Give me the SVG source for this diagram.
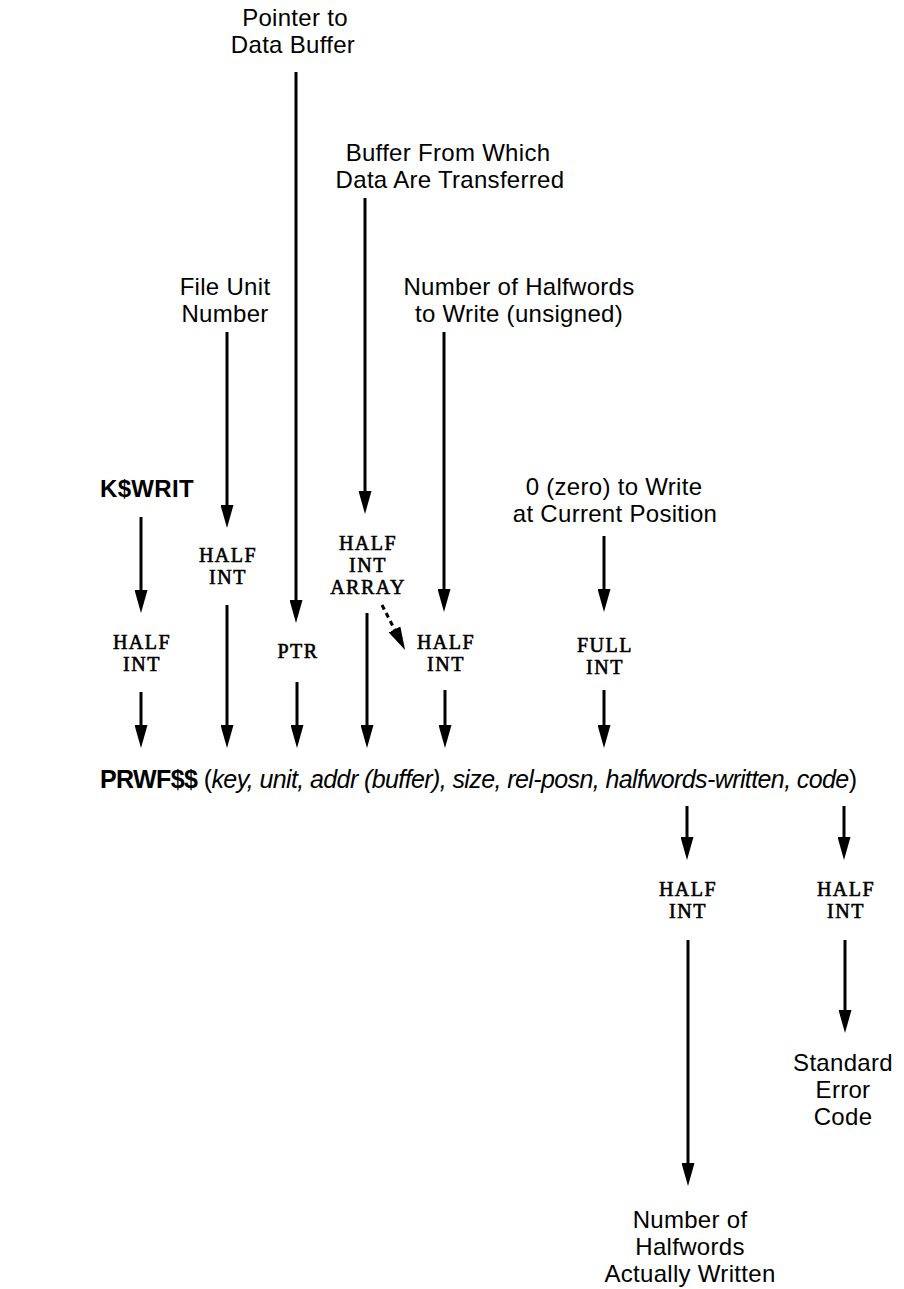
<svg xmlns="http://www.w3.org/2000/svg" width="904" height="1289" viewBox="0 0 904 1289">
  <style>
    .sans { font-family: "Liberation Sans", Arial, sans-serif; font-size: 24px; letter-spacing: 0.3px; fill: #000; text-anchor: middle; }
    .bold { font-weight: bold; }
    .serif { font-family: "Liberation Serif", "Times New Roman", serif; font-size: 20px; fill: #000; stroke: #000; stroke-width: 0.6; text-anchor: middle; letter-spacing: 1.5px; }
    .conn { stroke: #000; stroke-width: 3; fill: none; marker-end: url(#ah); }
    .dot { stroke-dasharray: 5 4; }
  </style>
  <defs>
    <marker id="ah" markerUnits="userSpaceOnUse" markerWidth="23" markerHeight="13" viewBox="0 0 23 13" refX="13" refY="6.5" orient="auto">
      <path d="M0,0 L23,6.5 L0,13 z" fill="#000"/>
    </marker>
  </defs>
  <rect width="904" height="1289" fill="#fff"/>

  <g id="in-pointer">
    <text class="sans" x="295" y="26">Pointer to<tspan x="293" dy="27">Data Buffer</tspan></text>
  </g>
  <g id="in-buffer">
    <text class="sans" x="448" y="161">Buffer From Which<tspan x="450" dy="27">Data Are Transferred</tspan></text>
  </g>
  <g id="in-unit">
    <text class="sans" x="225" y="295">File Unit<tspan x="225" dy="27">Number</tspan></text>
  </g>
  <g id="in-size">
    <text class="sans" x="519" y="295">Number of Halfwords<tspan x="519" dy="27">to Write (unsigned)</tspan></text>
  </g>
  <g id="in-key">
    <text class="sans bold" x="147" y="497">K$WRIT</text>
  </g>
  <g id="in-relposn">
    <text class="sans" x="614" y="495">0 (zero) to Write<tspan x="615" dy="27">at Current Position</tspan></text>
  </g>

  <g id="t-key">
    <text class="serif" x="142" y="649">HALF<tspan x="142" dy="22">INT</tspan></text>
  </g>
  <g id="t-unit">
    <text class="serif" x="228" y="562">HALF<tspan x="228" dy="22">INT</tspan></text>
  </g>
  <g id="t-ptr">
    <text class="serif" x="298" y="658">PTR</text>
  </g>
  <g id="t-array">
    <text class="serif" x="368" y="550">HALF<tspan x="368" dy="22">INT</tspan><tspan x="368" dy="22">ARRAY</tspan></text>
  </g>
  <g id="t-size">
    <text class="serif" x="446" y="649">HALF<tspan x="446" dy="22">INT</tspan></text>
  </g>
  <g id="t-full">
    <text class="serif" x="605" y="652">FULL<tspan x="605" dy="22">INT</tspan></text>
  </g>

  <g id="call">
    <text x="100" y="788" textLength="757" lengthAdjust="spacing" style="font-family: 'Liberation Sans', Arial, sans-serif; font-size: 25px; fill:#000;"><tspan font-weight="bold">PRWF$$</tspan> (<tspan font-style="italic">key, unit, addr (buffer), size, rel-posn, halfwords-written, code</tspan>)</text>
  </g>

  <g id="t-written">
    <text class="serif" x="688" y="896">HALF<tspan x="688" dy="22">INT</tspan></text>
  </g>
  <g id="t-code">
    <text class="serif" x="846" y="896">HALF<tspan x="846" dy="22">INT</tspan></text>
  </g>
  <g id="out-code">
    <text class="sans" x="843" y="1071">Standard<tspan x="843" dy="27">Error</tspan><tspan x="843" dy="27">Code</tspan></text>
  </g>
  <g id="out-written">
    <text class="sans" x="690" y="1228">Number of<tspan x="690" dy="27">Halfwords</tspan><tspan x="690" dy="27">Actually Written</tspan></text>
  </g>

  <g id="connectors">
    <line class="conn" x1="296" y1="72" x2="296" y2="613"/>
    <line class="conn" x1="365" y1="198" x2="365" y2="504"/>
    <line class="conn" x1="227" y1="332" x2="227" y2="518"/>
    <line class="conn" x1="444" y1="332" x2="444" y2="602"/>
    <line class="conn" x1="141" y1="517" x2="141" y2="603"/>
    <line class="conn" x1="604" y1="536" x2="604" y2="602"/>
    <line class="conn dot" x1="382" y1="605" x2="400.5" y2="641"/>

    <line class="conn" x1="141" y1="692" x2="141" y2="738"/>
    <line class="conn" x1="227" y1="605" x2="227" y2="738"/>
    <line class="conn" x1="297" y1="682" x2="297" y2="738"/>
    <line class="conn" x1="367" y1="613" x2="367" y2="738"/>
    <line class="conn" x1="445" y1="690" x2="445" y2="738"/>
    <line class="conn" x1="604" y1="690" x2="604" y2="738"/>

    <line class="conn" x1="687" y1="806" x2="687" y2="850"/>
    <line class="conn" x1="844" y1="806" x2="844" y2="850"/>
    <line class="conn" x1="688" y1="940" x2="688" y2="1176"/>
    <line class="conn" x1="845" y1="940" x2="845" y2="1023"/>
  </g>
</svg>
